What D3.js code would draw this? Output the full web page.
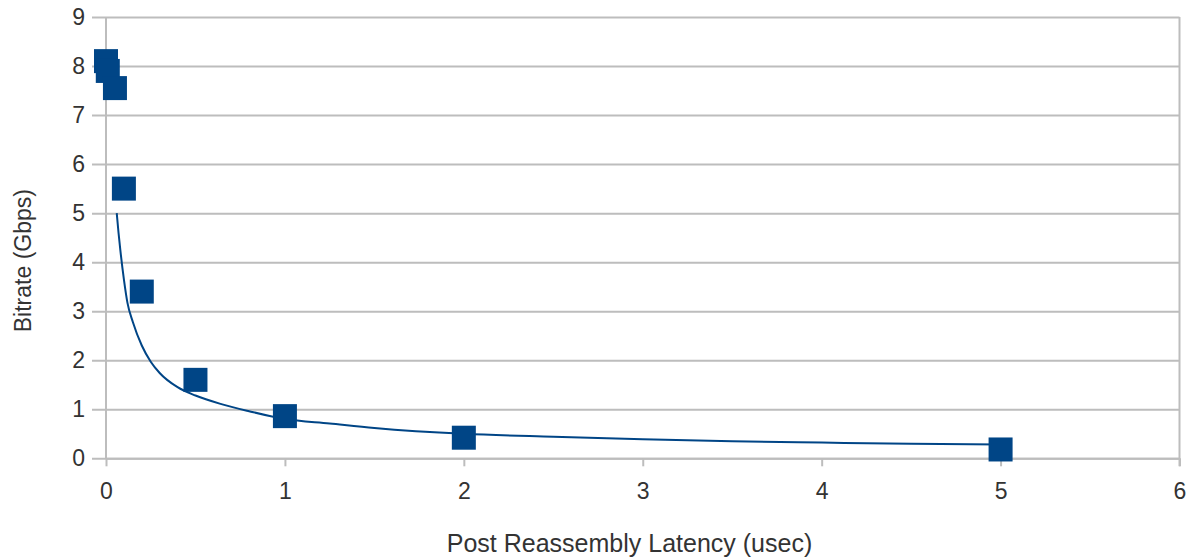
<!DOCTYPE html>
<html>
<head>
<meta charset="utf-8">
<script src="https://cdn.jsdelivr.net/npm/d3@7"></script>
<style>
  html, body { margin: 0; padding: 0; background: #fff; }
  svg { display: block; font-family: "Liberation Sans", Arial, sans-serif; }
</style>
</head>
<body>
<svg id="chart" width="1190" height="559"></svg>
<script>
// Measured throughput against post-reassembly latency
const latency = [0, 0.01, 0.05, 0.1, 0.2, 0.5, 1, 2, 5];
const bitrate = [8.1, 7.9, 7.55, 5.5, 3.4, 1.6, 0.86, 0.42, 0.18];

// Power trend line, sampled along its course
const trendX = [0.06, 0.07, 0.08, 0.1, 0.12, 0.15, 0.2, 0.25, 0.3, 0.4, 0.5, 0.65, 0.8, 1.0, 1.25, 1.5, 2.0, 2.5, 3.0, 3.5, 4.0, 4.5, 5.0];
const trendY = [5.0, 4.6, 4.25, 3.65, 3.17, 2.78, 2.3, 1.97, 1.74, 1.45, 1.28, 1.1, 0.96, 0.8, 0.71, 0.62, 0.5, 0.44, 0.39, 0.35, 0.32, 0.295, 0.28];

const xTicks = [0, 1, 2, 3, 4, 5, 6];
const yTicks = [0, 1, 2, 3, 4, 5, 6, 7, 8, 9];

const svg = d3.select("#chart");
const plotLeft = 106, plotRight = 1179.5, plotTop = 17, plotBottom = 458.3;

const x = d3.scaleLinear().domain([0, 6]).range([plotLeft, plotRight]);
const y = d3.scaleLinear().domain([0, 9]).range([plotBottom, plotTop]);

const gridColor = "#bdbdbd";
const markColor = "#004586";
const textColor = "#333";

// Horizontal gridlines (extend left as tick marks)
svg.append("g")
  .attr("transform", `translate(${plotLeft},0)`)
  .call(d3.axisLeft(y).tickValues(yTicks).tickSize(-(plotRight - plotLeft)).tickSizeOuter(0).tickFormat(d3.format("d")))
  .call(g => g.select(".domain").remove())
  .call(g => g.selectAll(".tick line").attr("stroke", gridColor).attr("stroke-width", 2).attr("x1", -14))
  .call(g => g.selectAll(".tick text").attr("x", -21).attr("fill", textColor).attr("font-size", 23).attr("font-family", "Liberation Sans, Arial, sans-serif"));

// Bottom axis with short ticks
svg.append("g")
  .attr("transform", `translate(0,${plotBottom})`)
  .call(d3.axisBottom(x).tickValues(xTicks).tickSize(8).tickSizeOuter(0).tickPadding(16).tickFormat(d3.format("d")))
  .call(g => g.select(".domain").attr("stroke", gridColor).attr("stroke-width", 2))
  .call(g => g.selectAll(".tick line").attr("stroke", gridColor).attr("stroke-width", 2))
  .call(g => g.selectAll(".tick text").attr("fill", textColor).attr("font-size", 23).attr("font-family", "Liberation Sans, Arial, sans-serif"));

// Left axis line and right frame edge
svg.append("line").attr("x1", plotLeft).attr("x2", plotLeft).attr("y1", plotTop).attr("y2", plotBottom)
  .attr("stroke", gridColor).attr("stroke-width", 2);
svg.append("line").attr("x1", plotRight).attr("x2", plotRight).attr("y1", plotTop).attr("y2", plotBottom + 8)
  .attr("stroke", gridColor).attr("stroke-width", 2);

// Trend line
const trend = trendX.map((v, i) => [v, trendY[i]]);
svg.append("path")
  .datum(trend)
  .attr("fill", "none")
  .attr("stroke", markColor)
  .attr("stroke-width", 2)
  .attr("d", d3.line().x(d => x(d[0])).y(d => y(d[1])).curve(d3.curveMonotoneX));

// Square markers
const size = 24;
svg.append("g").selectAll("rect")
  .data(latency.map((v, i) => [v, bitrate[i]]))
  .join("rect")
  .attr("x", d => x(d[0]) - size / 2)
  .attr("y", d => y(d[1]) - size / 2)
  .attr("width", size)
  .attr("height", size)
  .attr("fill", markColor);

// Axis titles
svg.append("text")
  .attr("x", 629.5)
  .attr("y", 552)
  .attr("text-anchor", "middle")
  .attr("fill", textColor)
  .attr("font-size", 25)
  .text("Post Reassembly Latency (usec)");

svg.append("text")
  .attr("transform", `translate(31,${(plotTop + plotBottom) / 2 + 23}) rotate(-90)`)
  .attr("text-anchor", "middle")
  .attr("fill", textColor)
  .attr("font-size", 23)
  .text("Bitrate (Gbps)");
</script>
</body>
</html>
